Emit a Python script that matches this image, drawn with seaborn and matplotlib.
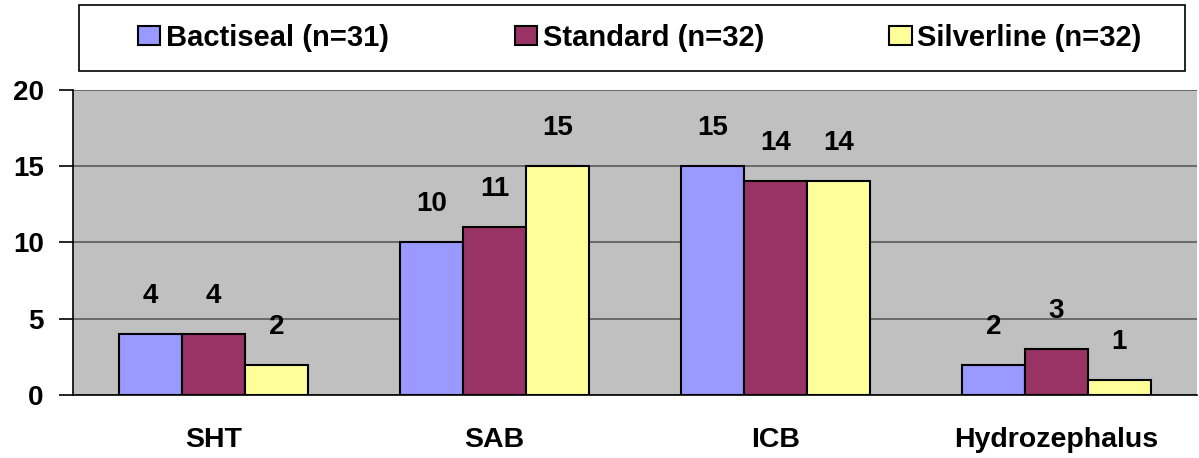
import matplotlib
matplotlib.use("Agg")
import matplotlib.pyplot as plt
from matplotlib.patches import Rectangle
import seaborn as sns
import pandas as pd

categories = ["SHT", "SAB", "ICB", "Hydrozephalus"]
series_names = ["Bactiseal (n=31)", "Standard (n=32)", "Silverline (n=32)"]
bactiseal = [4, 10, 15, 2]
standard = [4, 11, 14, 3]
silverline = [2, 15, 14, 1]
y_ticks = [0, 5, 10, 15, 20]

colors = ["#9999FF", "#993366", "#FFFF99"]

df = pd.DataFrame({
    "category": categories * 3,
    "series": [series_names[0]] * 4 + [series_names[1]] * 4 + [series_names[2]] * 4,
    "value": bactiseal + standard + silverline,
})

sns.set_theme(style="white")
plt.rcParams["font.family"] = ["Liberation Sans", "DejaVu Sans"]
plt.rcParams["font.weight"] = "bold"
plt.rcParams["text.color"] = "black"
plt.rcParams["xtick.color"] = "black"
plt.rcParams["ytick.color"] = "black"

W, H = 1199, 458
fig = plt.figure(figsize=(W / 100, H / 100), dpi=100)
ax = fig.add_axes([73 / W, 1 - 395 / H, (1197 - 73) / W, (395 - 90) / H])

sns.barplot(data=df, x="category", y="value", hue="series", order=categories,
            hue_order=series_names, palette=colors, width=0.67, gap=0,
            edgecolor="black", linewidth=1.5, saturation=1, ax=ax, legend=True)

ax.set_facecolor("#C0C0C0")
ax.set_ylim(0, 20)
ax.set_xlim(-0.5, 3.5)
ax.set_yticks(y_ticks)
ax.set_yticklabels([str(t) for t in y_ticks], fontsize=20, fontweight="bold", color="black")
ax.yaxis.grid(True, color="#5a5a5a", linewidth=1.2)
ax.set_axisbelow(True)

# category labels centred, ticks on category boundaries
ax.set_xticks([0, 1, 2, 3])
ax.set_xticklabels(categories, fontsize=20.5, fontweight="bold", color="black")
ax.tick_params(axis="x", length=0, pad=23)
ax.set_xticks([-0.5, 0.5, 1.5, 2.5, 3.5], minor=True)
ax.tick_params(axis="x", which="minor", length=10, width=1.2, color="black", direction="out")
ax.tick_params(axis="y", length=10, width=1.2, color="black", direction="out", left=True, pad=11)
ax.set_xlabel("")
ax.set_ylabel("")

for side in ["top", "right"]:
    ax.spines[side].set_visible(False)
for side in ["left", "bottom"]:
    ax.spines[side].set_color("black")
    ax.spines[side].set_linewidth(1.2)

for cont in ax.containers:
    ax.bar_label(cont, labels=[f"{v:g}" for v in cont.datavalues],
                 padding=18, fontsize=20, fontweight="bold", color="black")

handles, labels = ax.get_legend_handles_labels()
ax.get_legend().remove()

# legend box
fig.patches.append(Rectangle((79 / W, 1 - 71 / H), (1185 - 79) / W, 66 / H,
                             transform=fig.transFigure, facecolor="white",
                             edgecolor="black", linewidth=1.2, zorder=0))
leg = fig.legend(handles, labels, loc="center", ncol=3,
                 bbox_to_anchor=(640 / W, 1 - 38 / H),
                 frameon=False, prop={"size": 21, "weight": "bold"},
                 handlelength=0.76, handleheight=0.65, handletextpad=0.2,
                 columnspacing=4.3, borderaxespad=0)
for h in leg.legend_handles:
    h.set_edgecolor("black")
    h.set_linewidth(1.5)
for t in leg.get_texts():
    t.set_color("black")

fig.savefig("out.png", dpi=100)
